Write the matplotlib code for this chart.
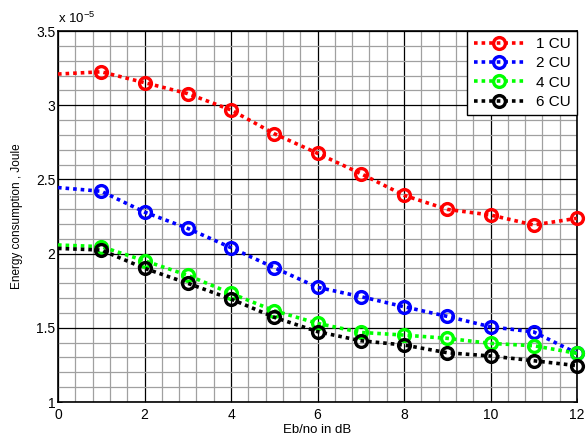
import matplotlib
matplotlib.use("Agg")
import matplotlib.pyplot as plt
from matplotlib.ticker import MultipleLocator

plt.rcParams['font.family'] = ['Liberation Sans', 'DejaVu Sans']

x = [0, 1, 2, 3, 4, 5, 6, 7, 8, 9, 10, 11, 12]
cu1 = [3.21, 3.225, 3.152, 3.078, 2.968, 2.808, 2.676, 2.539, 2.393, 2.298, 2.26, 2.193, 2.238]
cu2 = [2.445, 2.42, 2.28, 2.17, 2.04, 1.905, 1.773, 1.71, 1.642, 1.577, 1.507, 1.472, 1.328]
cu4 = [2.058, 2.047, 1.952, 1.854, 1.732, 1.615, 1.53, 1.469, 1.451, 1.429, 1.395, 1.379, 1.328]
cu6 = [2.035, 2.024, 1.901, 1.8, 1.694, 1.571, 1.474, 1.413, 1.384, 1.332, 1.31, 1.278, 1.245]
labels = ['1 CU', '2 CU', '4 CU', '6 CU']
colors = ['#ff0000', '#0000ff', '#00ff00', '#000000']
xticks = [0, 2, 4, 6, 8, 10, 12]
yticks = [1, 1.5, 2, 2.5, 3, 3.5]

fig = plt.figure(figsize=(5.86, 4.43), dpi=100)
ax = fig.add_axes([58/586, 41/443, 519/586, 371/443])

for ys, lab, c in zip([cu1, cu2, cu4, cu6], labels, colors):
    ax.plot(x, ys, linestyle=(0, (1, 1.1)), linewidth=2.6, color=c,
            marker='o', markersize=8.5, markerfacecolor='none',
            markeredgewidth=2.4, markeredgecolor=c,
            markevery=list(range(1, len(x))), label=lab,
            dash_capstyle='butt', zorder=3, clip_on=False)

ax.set_xlim(0, 12)
ax.set_ylim(1, 3.5)
ax.set_xticks(xticks)
ax.set_yticks(yticks)
ax.set_xticklabels([str(t) for t in xticks])
ax.set_yticklabels(['1', '1.5', '2', '2.5', '3', '3.5'])
ax.xaxis.set_minor_locator(MultipleLocator(0.4))
ax.yaxis.set_minor_locator(MultipleLocator(0.1))
ax.grid(which='minor', color='#a0a0a0', linewidth=0.9, zorder=0)
ax.grid(which='major', color='#000000', linewidth=0.9, zorder=1)
ax.set_axisbelow(True)
ax.tick_params(which='both', direction='in', labelsize=10, top=True, right=True,
               length=3, width=0.6)
ax.tick_params(which='minor', length=0)
ax.tick_params(axis='x', pad=4)
ax.tick_params(axis='y', pad=2)
for s in ax.spines.values():
    s.set_linewidth(1.2)
    s.set_color('black')

ax.set_xlabel('Eb/no in dB', fontsize=9.5, labelpad=2)
ax.set_ylabel('Energy consumption , Joule', fontsize=8.5, labelpad=9)

fig.text(58/586, 1 - 26/443, r'x 10$^{\mathregular{-5}}$', fontsize=9.5, ha='left', va='bottom')

leg = ax.legend(loc='upper right', borderaxespad=0, fontsize=11, fancybox=False,
                edgecolor='black', framealpha=1, handlelength=3.3, handletextpad=0.8,
                labelspacing=0.35, borderpad=0.4)
leg.get_frame().set_linewidth(1.0)
leg.set_zorder(5)

fig.savefig('out.png', dpi=100)
